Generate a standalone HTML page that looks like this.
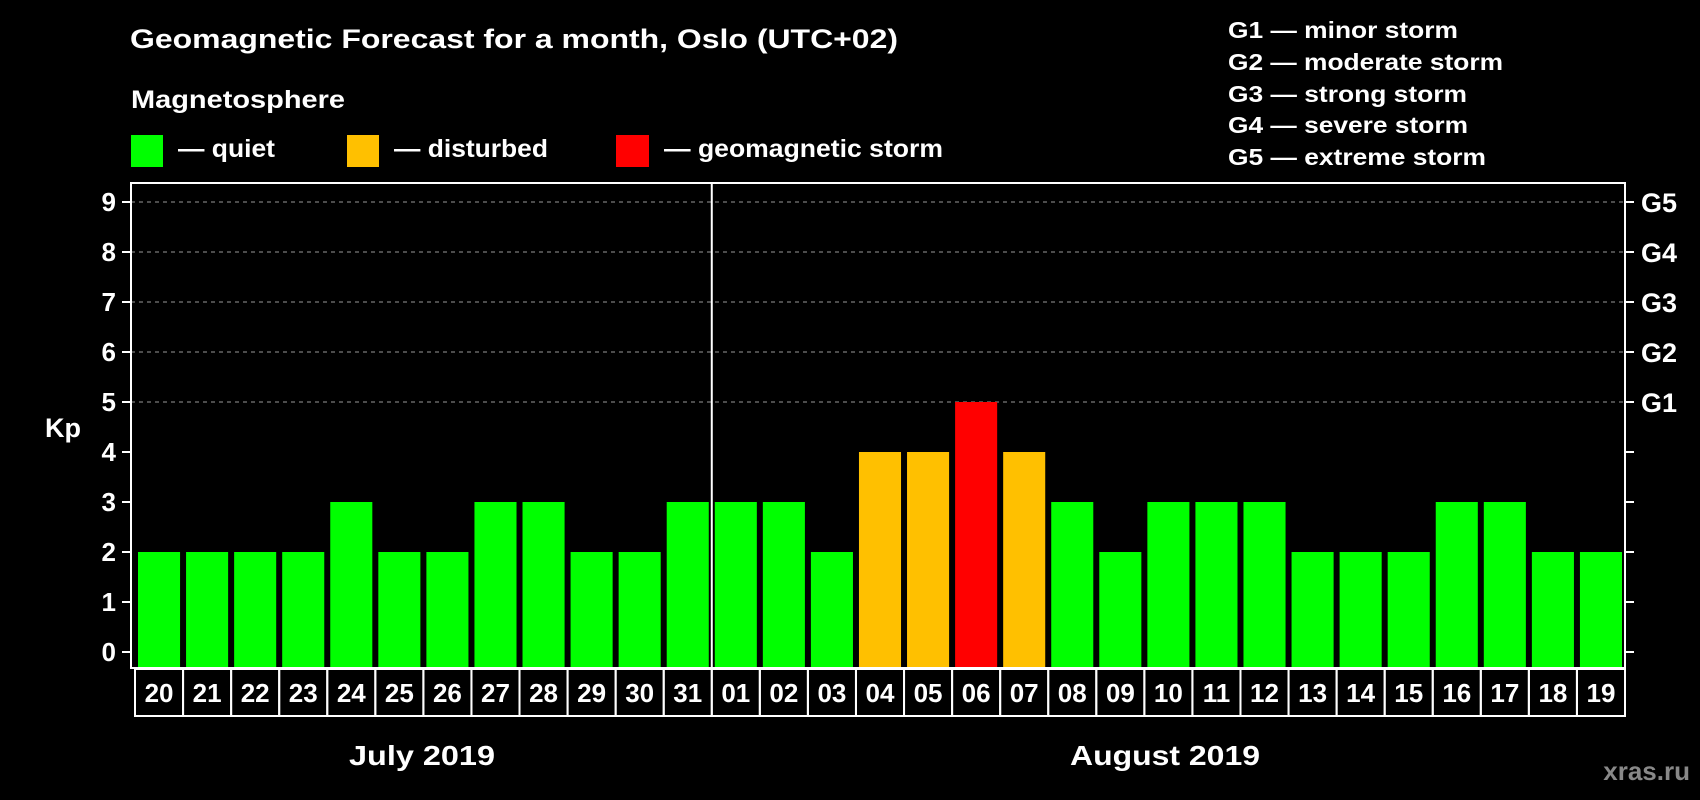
<!DOCTYPE html>
<html><head><meta charset="utf-8"><style>
html,body{margin:0;padding:0;background:#000;}
svg{display:block;font-family:"Liberation Sans",Arial,sans-serif;font-weight:bold;}
</style></head><body>
<svg id="chart" width="1700" height="800" viewBox="0 0 1700 800" xmlns="http://www.w3.org/2000/svg">
<rect width="1700" height="800" fill="#000"/>
<text x="130" y="48" fill="#fff" font-size="27" textLength="768" lengthAdjust="spacingAndGlyphs">Geomagnetic Forecast for a month, Oslo (UTC+02)</text>
<text x="131" y="108" fill="#fff" font-size="25" textLength="214" lengthAdjust="spacingAndGlyphs">Magnetosphere</text>
<g>
<rect x="131" y="135" width="32" height="32" fill="#00ff00"/>
<text x="178" y="157" fill="#fff" font-size="25" textLength="97" lengthAdjust="spacingAndGlyphs">— quiet</text></g>
<g>
<rect x="347" y="135" width="32" height="32" fill="#ffc000"/>
<text x="394" y="157" fill="#fff" font-size="25" textLength="154" lengthAdjust="spacingAndGlyphs">— disturbed</text></g>
<g>
<rect x="616" y="135" width="33" height="32" fill="#ff0000"/>
<text x="664" y="157" fill="#fff" font-size="25" textLength="279" lengthAdjust="spacingAndGlyphs">— geomagnetic storm</text></g>
<g fill="#fff" font-size="23">
<text x="1228" y="38" textLength="230" lengthAdjust="spacingAndGlyphs">G1 — minor storm</text>
<text x="1228" y="70" textLength="275" lengthAdjust="spacingAndGlyphs">G2 — moderate storm</text>
<text x="1228" y="102" textLength="239" lengthAdjust="spacingAndGlyphs">G3 — strong storm</text>
<text x="1228" y="133" textLength="240" lengthAdjust="spacingAndGlyphs">G4 — severe storm</text>
<text x="1228" y="165" textLength="258" lengthAdjust="spacingAndGlyphs">G5 — extreme storm</text>
</g>
<text x="63" y="437" fill="#fff" font-size="27" text-anchor="middle">Kp</text>
<g id="grid"></g>
<g id="bars"></g>
<g id="axes"></g>
<text x="422" y="765" fill="#fff" font-size="28" text-anchor="middle" textLength="146" lengthAdjust="spacingAndGlyphs">July 2019</text>
<text x="1165" y="765" fill="#fff" font-size="28" text-anchor="middle" textLength="190" lengthAdjust="spacingAndGlyphs">August 2019</text>
<text x="1690" y="780" fill="#888" font-size="26" text-anchor="end">xras.ru</text>
</svg>
<script>
const days = ["20","21","22","23","24","25","26","27","28","29","30","31","01","02","03","04","05","06","07","08","09","10","11","12","13","14","15","16","17","18","19"];
const kpValues = [2,2,2,2,3,2,2,3,3,2,2,3,3,3,2,4,4,5,4,3,2,3,3,3,2,2,2,3,3,2,2];
const yTicks = [0,1,2,3,4,5,6,7,8,9];
const gLabels = ["G1","G2","G3","G4","G5"];
const NS="http://www.w3.org/2000/svg";
const L=131,R=1625,T=183,B=668;
const y0=652, unit=50;
function yS(v){return y0-unit*v;}
const pitch=(R-L-4)/days.length;
function xS(i){return L+7+i*pitch;}
const bw=pitch-6;
function mk(tag,attrs,parent){const e=document.createElementNS(NS,tag);for(const k in attrs)e.setAttribute(k,attrs[k]);parent.appendChild(e);return e;}
const grid=document.getElementById('grid'),bars=document.getElementById('bars'),axes=document.getElementById('axes');
yTicks.forEach(v=>{
  const y=yS(v);
  if(v>=5){const l=mk('line',{x1:L,x2:R,y1:y,y2:y,stroke:'#999','stroke-width':1,'stroke-dasharray':'4,4'},grid);
    
    }
  const t1=mk('line',{x1:L-9,x2:L,y1:y,y2:y,stroke:'#fff','stroke-width':2},axes);
  
  
  const t2=mk('line',{x1:R,x2:R+9,y1:y,y2:y,stroke:'#fff','stroke-width':2},axes);
  
  
  const lb=mk('text',{x:L-15,y:y+9,fill:'#fff','font-size':26,'text-anchor':'end'},axes);
  lb.textContent=v;
  
  
  if(v>=5){const g=mk('text',{x:R+16,y:y+10,fill:'#fff','font-size':27},axes);
    g.textContent=gLabels[v-5];
    
    }
});
kpValues.forEach((v,i)=>{
  const c=v>=5?'#ff0000':(v>=4?'#ffc000':'#00ff00');
  const r=mk('rect',{x:xS(i),y:yS(v),width:bw,height:B-yS(v),fill:c},bars);
  
  
  const cx=L+4+i*pitch;
  const cell=mk('rect',{x:cx,y:B+1,width:pitch,height:47,fill:'none',stroke:'#fff','stroke-width':2},axes);
  
  
  const t=mk('text',{x:xS(i)+bw/2,y:B+34,fill:'#fff','font-size':26,'text-anchor':'middle'},axes);
  t.textContent=days[i];
  
  
});
const box=mk('rect',{x:L,y:T,width:R-L,height:B-T,fill:'none',stroke:'#fff','stroke-width':2},axes);


const si=days.indexOf("01");
const sx=xS(si)-3;
const sep=mk('line',{x1:sx,x2:sx,y1:T,y2:B,stroke:'#fff','stroke-width':2},axes);


</script>
</body></html>
